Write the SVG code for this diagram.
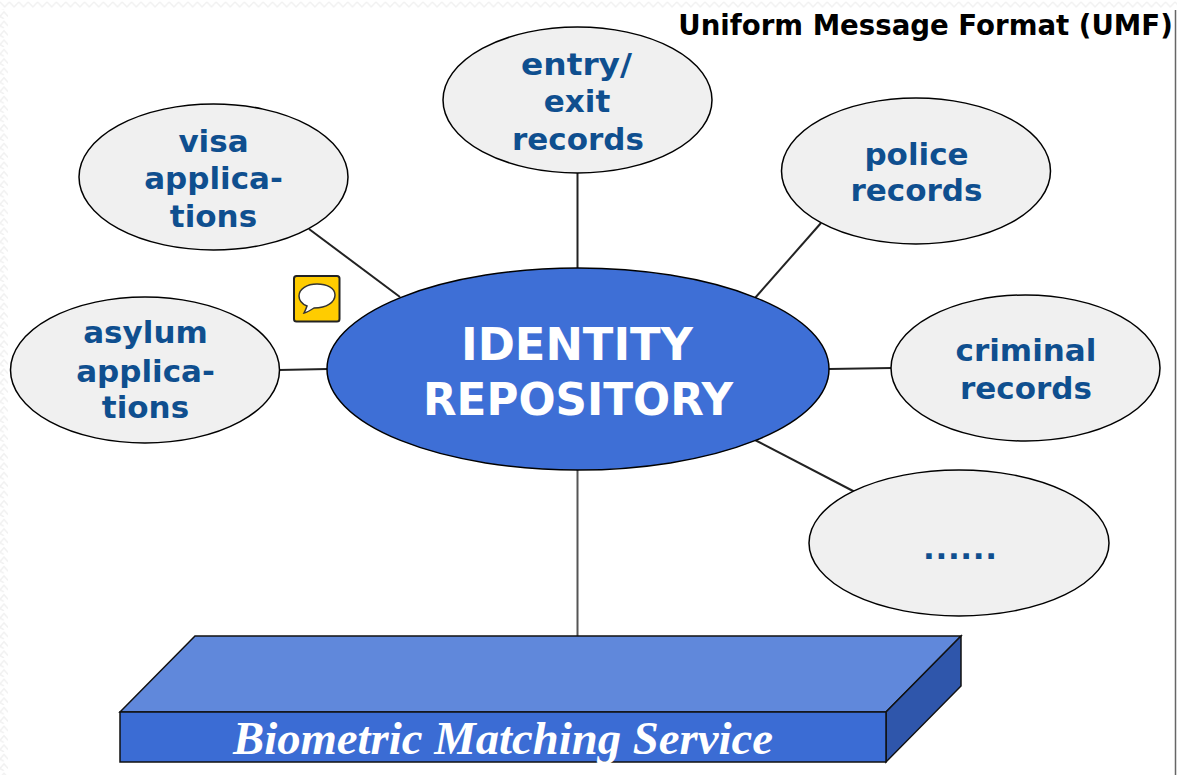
<svg xmlns="http://www.w3.org/2000/svg" width="1177" height="775" viewBox="0 0 1177 775">
<style>
.sat{fill:#f0f0f0;stroke:#000;stroke-width:1.5}
.lbl{font-family:"DejaVu Sans",Verdana,sans-serif;font-weight:700;font-size:31px;fill:#0f4f8f;text-anchor:middle}
.hub{font-family:"DejaVu Sans",sans-serif;font-weight:700;font-size:44px;fill:#fff;text-anchor:middle}
#connectors line{stroke:#222;stroke-width:2}
</style>
<defs>
<pattern id="zigTop" width="9.400" height="9" patternUnits="userSpaceOnUse"><path d="M0 2L4.700 7L9.400 2" fill="none" stroke="#f1f1f1" stroke-width="1.500"/></pattern>
<pattern id="zigLeft" width="8" height="9.400" patternUnits="userSpaceOnUse"><path d="M0 7L4 9.400M0 7L4 2.500L8 7" fill="none" stroke="#f1f1f1" stroke-width="1.500"/></pattern>
</defs>
<rect width="1177" height="775" fill="#fff"/>
<rect x="0" y="0" width="1177" height="9" fill="url(#zigTop)"/>
<rect x="0" y="9" width="8" height="766" fill="url(#zigLeft)"/>
<line x1="1175.500" y1="10" x2="1175.500" y2="775" stroke="#666" stroke-width="1.500"/>
<text x="925.500" y="35" font-family="'DejaVu Sans',sans-serif" font-weight="700" font-size="27.600" text-anchor="middle" fill="#000">Uniform Message Format (UMF)</text>
<g id="connectors">
<line x1="577.500" y1="172" x2="577.500" y2="270"/>
<line x1="309" y1="229" x2="400" y2="297"/>
<line x1="821" y1="223" x2="755" y2="298"/>
<line x1="279" y1="370" x2="328" y2="369"/>
<line x1="829" y1="369" x2="892" y2="368"/>
<line x1="755" y1="440" x2="855" y2="492"/>
<line x1="577.500" y1="469" x2="577.500" y2="636" style="stroke:#555"/>
</g>
<g id="node-entry"><ellipse class="sat" cx="577.500" cy="100" rx="134.500" ry="73"/><text class="lbl" x="576.500" y="75" textLength="111" lengthAdjust="spacingAndGlyphs">entry/</text><text class="lbl" x="577" y="112">exit</text><text class="lbl" x="578" y="150">records</text></g>
<g id="node-visa"><ellipse class="sat" cx="213.500" cy="177" rx="134.500" ry="73"/><text class="lbl" x="213.500" y="152">visa</text><text class="lbl" x="213.500" y="189">applica-</text><text class="lbl" x="213.500" y="227">tions</text></g>
<g id="node-police"><ellipse class="sat" cx="916" cy="171" rx="134.500" ry="73"/><text class="lbl" x="916.500" y="165">police</text><text class="lbl" x="916.500" y="201">records</text></g>
<g id="node-asylum"><ellipse class="sat" cx="145" cy="370" rx="134.500" ry="73"/><text class="lbl" x="145.500" y="343">asylum</text><text class="lbl" x="145.500" y="382">applica-</text><text class="lbl" x="145.500" y="418">tions</text></g>
<g id="node-criminal"><ellipse class="sat" cx="1025.500" cy="368" rx="134.500" ry="73"/><text class="lbl" x="1026" y="361">criminal</text><text class="lbl" x="1026" y="399">records</text></g>
<g id="node-more"><ellipse class="sat" cx="959" cy="543" rx="150" ry="73"/><text class="lbl" x="960" y="559" textLength="74" lengthAdjust="spacing">......</text></g>
<g id="node-hub"><ellipse cx="578" cy="369" rx="251" ry="101" fill="#3e6fd6" stroke="#000" stroke-width="1.500"/><text class="hub" x="577" y="360" textLength="232" lengthAdjust="spacingAndGlyphs">IDENTITY</text><text class="hub" x="578" y="415" textLength="310" lengthAdjust="spacingAndGlyphs">REPOSITORY</text></g>
<g id="node-comment"><rect x="294" y="276" width="45.500" height="45.500" rx="2.500" fill="#ffcc00" stroke="#222" stroke-width="2"/><path d="M317 284c-10 0-18 5-18 12 0 4 3 8 8 10-1 3-2 5-3 7 4-1 7-3 10-5 13 0 21-6 21-13s-8-11-18-11z" fill="#fff" stroke="#333" stroke-width="1.500"/></g>
<g id="node-service">
<polygon points="120,712 195,636 961,636 886,712" fill="#6088db" stroke="#111" stroke-width="1.500"/>
<polygon points="886,712 961,636 961,686 886,762" fill="#2f56ab" stroke="#111" stroke-width="1.500"/>
<rect x="120" y="712" width="766" height="50" fill="#3b6cd4" stroke="#111" stroke-width="1.500"/>
<text x="503" y="754" font-family="'Liberation Serif',serif" font-style="italic" font-weight="700" font-size="47" fill="#fff" text-anchor="middle" textLength="540" lengthAdjust="spacingAndGlyphs">Biometric Matching Service</text>
</g>
</svg>
